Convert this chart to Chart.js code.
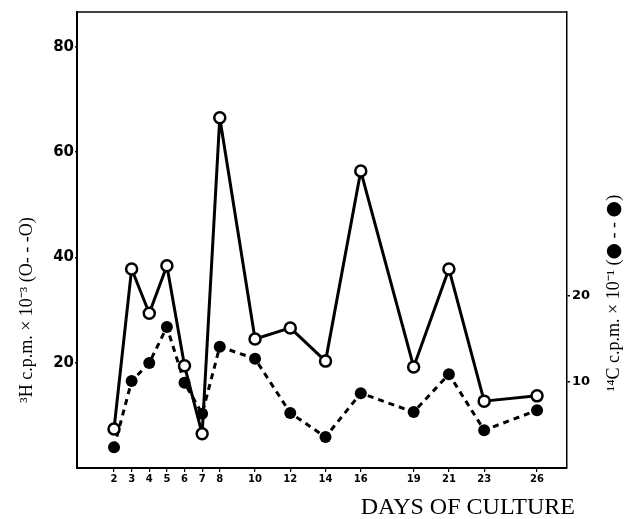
<!DOCTYPE html>
<html>
<head>
<meta charset="utf-8">
<script src="https://cdn.jsdelivr.net/npm/chart.js@4/dist/chart.umd.min.js"></script>
<style>
  html, body { margin: 0; padding: 0; background: #fff; }
  #wrap { width: 632px; height: 519px; }
</style>
</head>
<body>
<div id="wrap"><canvas id="c" width="632" height="519"></canvas></div>
<script>
// ---- data ----
const days = [2, 3, 4, 5, 6, 7, 8, 10, 12, 14, 16, 19, 21, 23, 26];
const h3Values = [7.4, 37.8, 29.4, 38.4, 19.4, 6.5, 66.5, 24.5, 26.6, 20.3, 56.4, 19.2, 37.8, 12.7, 13.7];
const c14Values = [2.4, 10.1, 12.2, 16.4, 9.9, 6.3, 14.1, 12.7, 6.4, 3.6, 8.7, 6.5, 10.9, 4.4, 6.7];
const xTickLabels = [2, 3, 4, 5, 6, 7, 8, 10, 12, 14, 16, 19, 21, 23, 26];
const leftTicks = [20, 40, 60, 80];
const rightTicks = [10, 20];
const leftTitle = "\u00B3H c.p.m. \u00D7 10\u207B\u00B3 (O- - -O)";
const rightTitleParts = ["\u00B9\u2074C c.p.m. \u00D7 10\u207B\u00B9 (", "\u25CF", " - - ", "\u25CF", ")"];
const xTitle = "DAYS OF CULTURE";

const SERIF = "18px 'Liberation Serif', serif";
const DOT = "19px 'DejaVu Sans', sans-serif";

function drawRotatedParts(ctx, parts, fonts, cx, cy) {
  ctx.save();
  ctx.translate(cx, cy);
  ctx.rotate(-Math.PI / 2);
  ctx.textAlign = 'left';
  ctx.textBaseline = 'middle';
  let total = 0;
  const widths = parts.map((p, i) => { ctx.font = fonts[i]; const w = ctx.measureText(p).width; total += w; return w; });
  let x = -total / 2;
  parts.forEach((p, i) => { ctx.font = fonts[i]; ctx.fillText(p, x, 0); x += widths[i]; });
  ctx.restore();
}

const titlePlugin = {
  id: 'titles',
  afterDraw(chart) {
    const ctx = chart.ctx;
    ctx.save();
    ctx.fillStyle = '#000';
    // left title, reads bottom to top
    drawRotatedParts(ctx, [leftTitle], [SERIF], 27, 310);
    // right title, reads bottom to top
    drawRotatedParts(ctx, rightTitleParts, [SERIF, DOT, SERIF, DOT, SERIF], 614, 293);
    // x title
    ctx.font = "24px 'Liberation Serif', serif";
    ctx.textAlign = 'right';
    ctx.textBaseline = 'alphabetic';
    ctx.fillText(xTitle, 575, 514);
    // top frame line
    const a = chart.chartArea;
    ctx.strokeStyle = '#000';
    ctx.lineWidth = 1.5;
    ctx.beginPath();
    ctx.moveTo(a.left, a.top);
    ctx.lineTo(a.right, a.top);
    ctx.stroke();
    ctx.restore();
  }
};

new Chart(document.getElementById('c'), {
  type: 'line',
  data: {
    datasets: [
      {
        label: '3H',
        data: days.map((d, i) => ({ x: d, y: h3Values[i] })),
        yAxisID: 'yL',
        borderColor: '#000',
        borderWidth: 3,
        borderJoinStyle: 'round',
        pointRadius: 5.5,
        pointBorderWidth: 2.5,
        pointBackgroundColor: '#fff',
        pointBorderColor: '#000',
        tension: 0,
        order: 1
      },
      {
        label: '14C',
        data: days.map((d, i) => ({ x: d, y: c14Values[i] })),
        yAxisID: 'yR',
        borderColor: '#000',
        borderWidth: 3,
        borderDash: [6, 5],
        borderJoinStyle: 'round',
        pointRadius: 6,
        pointBorderWidth: 0,
        pointBackgroundColor: '#000',
        pointBorderColor: '#000',
        tension: 0,
        order: 2
      }
    ]
  },
  options: {
    responsive: false,
    animation: false,
    devicePixelRatio: 1,
    layout: { padding: { top: 12, left: 0, right: 0, bottom: 0 } },
    plugins: { legend: { display: false }, tooltip: { enabled: false } },
    scales: {
      x: {
        type: 'linear',
        min: -0.1,
        max: 27.7,
        afterBuildTicks(scale) { scale.ticks = xTickLabels.map(v => ({ value: v })); },
        afterFit(scale) { scale.height = 51; },
        ticks: {
          color: '#000',
          font: { family: "'DejaVu Sans', sans-serif", weight: 'bold', size: 10 },
          padding: 1,
          maxRotation: 0,
          autoSkip: false,
          callback: v => String(v)
        },
        grid: { display: true, drawOnChartArea: false, tickLength: 4, color: '#000', lineWidth: 1.2 },
        border: { display: true, color: '#000', width: 2 }
      },
      yL: {
        type: 'linear',
        position: 'left',
        min: 0,
        max: 86.6,
        afterBuildTicks(scale) { scale.ticks = leftTicks.map(v => ({ value: v })); },
        afterFit(scale) { scale.width = 77; },
        ticks: { color: '#000', font: { family: "'DejaVu Sans', sans-serif", weight: 'bold', size: 15 }, padding: 1 },
        grid: { display: true, drawOnChartArea: false, tickLength: 2, color: '#000', lineWidth: 1.5 },
        border: { display: true, color: '#000', width: 2 }
      },
      yR: {
        type: 'linear',
        position: 'right',
        min: 0,
        max: 53,
        afterBuildTicks(scale) { scale.ticks = rightTicks.map(v => ({ value: v })); },
        afterFit(scale) { scale.width = 65; },
        ticks: { color: '#000', font: { family: "'DejaVu Sans', sans-serif", weight: 'bold', size: 13 }, padding: 2 },
        grid: { display: true, drawOnChartArea: false, tickLength: 3, color: '#000', lineWidth: 1.5 },
        border: { display: true, color: '#000', width: 1.5 }
      }
    }
  },
  plugins: [titlePlugin]
});
</script>
</body>
</html>
